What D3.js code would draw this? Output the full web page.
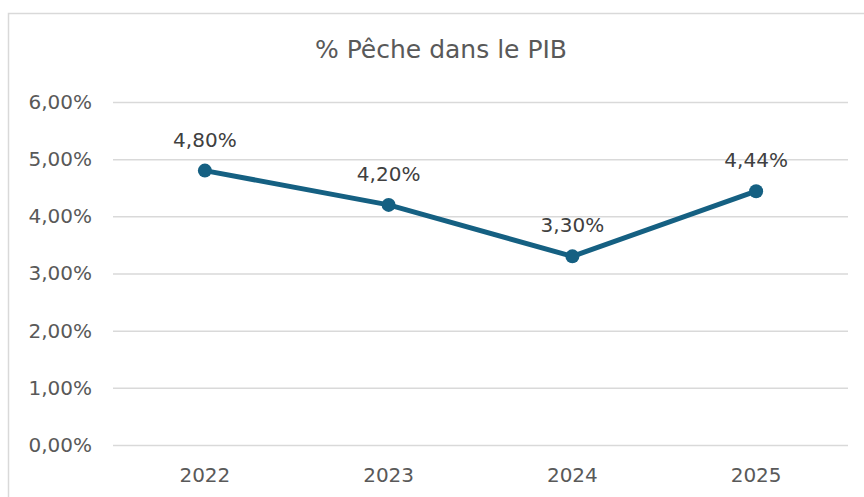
<!DOCTYPE html>
<html>
<head>
<meta charset="utf-8">
<script src="https://cdn.jsdelivr.net/npm/d3@7"></script>
<style>
  body { margin: 0; background: #fff; }
</style>
</head>
<body>
<svg id="chart"></svg>
<script>
/* global d3 */

var years = ["2022", "2023", "2024", "2025"];
var shares = [0.048, 0.042, 0.033, 0.0444];
var yTicks = [0, 0.01, 0.02, 0.03, 0.04, 0.05, 0.06];
var title = "% Pêche dans le PIB";

var width = 864,
  height = 497,
  margin = { top: 102, right: 16, bottom: 52, left: 113 },
  font = "'DejaVu Sans', sans-serif",
  pct = function (v) { return d3.format(".2f")(v * 100).replace(".", ",") + "%"; };

var svg = d3.select("#chart")
  .attr("width", width)
  .attr("height", height)
  .style("display", "block");

// chart frame
svg.append("rect")
  .attr("x", 8.5)
  .attr("y", 13.5)
  .attr("width", width + 20)
  .attr("height", height + 20)
  .attr("fill", "#fff")
  .attr("stroke", "#d9d9d9")
  .attr("stroke-width", 1.5);

var x = d3.scaleBand()
  .domain(years)
  .range([margin.left, width - margin.right]);

var y = d3.scaleLinear()
  .domain([0, 0.06])
  .range([height - margin.bottom, margin.top]);

svg.append("text")
  .attr("x", 441)
  .attr("y", 58)
  .attr("text-anchor", "middle")
  .attr("fill", "#595959")
  .attr("font-family", font)
  .attr("font-size", 25)
  .text(title);

// gridlines + y labels
var yAxis = svg.append("g")
  .attr("transform", "translate(" + margin.left + ",0)")
  .call(d3.axisLeft(y)
    .tickValues(yTicks)
    .tickSize(-(width - margin.right - margin.left))
    .tickPadding(21)
    .tickFormat(pct));
yAxis.select(".domain").remove();
yAxis.selectAll(".tick line").attr("stroke", "#d9d9d9").attr("stroke-width", 1.5);
yAxis.selectAll(".tick text")
  .attr("fill", "#595959")
  .attr("font-family", font)
  .attr("font-size", 20);

// x labels
var xAxis = svg.append("g")
  .attr("transform", "translate(0," + (height - margin.bottom) + ")")
  .call(d3.axisBottom(x).tickSize(0).tickPadding(23));
xAxis.select(".domain").remove();
xAxis.selectAll(".tick text")
  .attr("fill", "#595959")
  .attr("font-family", font)
  .attr("font-size", 20);

var cx = function (d, i) { return x(years[i]) + x.bandwidth() / 2; };

svg.append("path")
  .datum(shares)
  .attr("fill", "none")
  .attr("stroke", "#156082")
  .attr("stroke-width", 5)
  .attr("stroke-linejoin", "round")
  .attr("d", d3.line().x(cx).y(function (d) { return y(d); }));

svg.selectAll(".dot")
  .data(shares)
  .enter().append("circle")
  .attr("class", "dot")
  .attr("cx", cx)
  .attr("cy", function (d) { return y(d); })
  .attr("r", 7)
  .attr("fill", "#156082");

svg.selectAll(".lbl")
  .data(shares)
  .enter().append("text")
  .attr("class", "lbl")
  .attr("x", cx)
  .attr("y", function (d) { return y(d) - 24; })
  .attr("text-anchor", "middle")
  .attr("fill", "#404040")
  .attr("font-family", font)
  .attr("font-size", 20)
  .text(pct);
</script>
</body>
</html>
